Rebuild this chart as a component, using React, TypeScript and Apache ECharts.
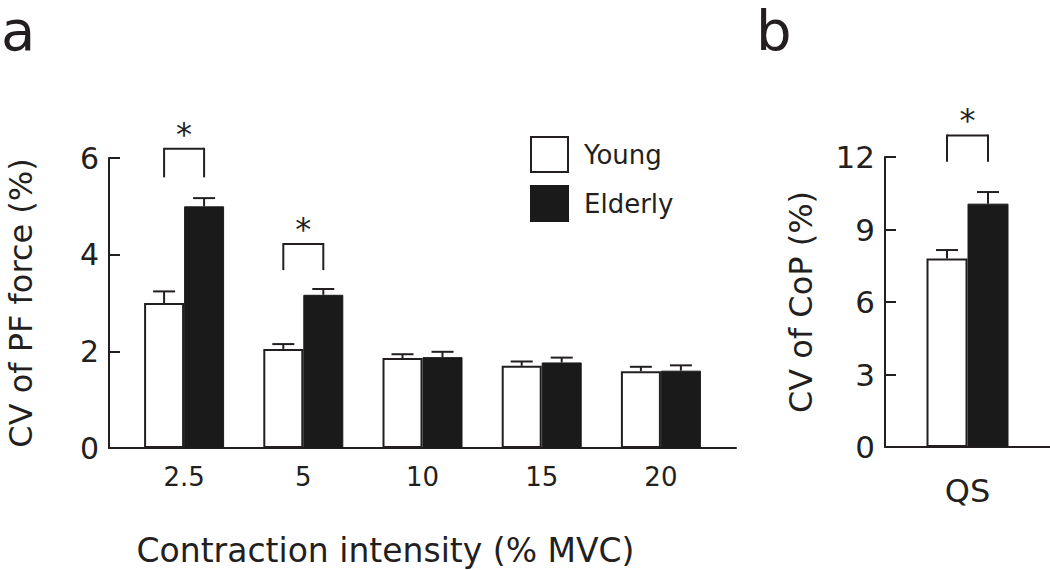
import React, { useEffect, useRef } from 'react';
import * as echarts from 'echarts';

// ---- Panel a data ----
const categories = ['2.5', '5', '10', '15', '20'];
const youngMean = [3.0, 2.05, 1.86, 1.70, 1.59];
const youngSE = [0.24, 0.10, 0.08, 0.09, 0.09];
const elderlyMean = [5.0, 3.17, 1.88, 1.77, 1.60];
const elderlySE = [0.17, 0.12, 0.11, 0.10, 0.11];
const sigIndexA = [0, 1];
const sigTopA = [6.19, 4.22];
const sigLegA = [5.6, 3.68];
const yMaxA = 6;
const yStepA = 2;

// ---- Panel b data ----
const qsCategories = ['QS'];
const qsYoungMean = [7.8];
const qsYoungSE = [0.35];
const qsElderlyMean = [10.07];
const qsElderlySE = [0.48];
const sigIndexB = [0];
const sigTopB = [12.89];
const sigLegB = [11.8];
const yMaxB = 12;
const yStepB = 3;

const INK = '#231f20';
const FONT = 'DejaVu Sans';
const BAR_A = 40;
const BAR_B = 41;

const lineEl = (x1: number, y1: number, x2: number, y2: number) => ({
  type: 'line',
  shape: { x1, y1, x2, y2 },
  style: { stroke: INK, lineWidth: 2 },
});

const errRender = (barW: number) => (params: any, api: any) => {
  const x = api.value(0);
  const mean = api.value(1);
  const top = api.value(2);
  const side = api.value(3);
  const base = api.coord([x, mean]);
  const tp = api.coord([x, top]);
  const cx = base[0] + (side * barW) / 2;
  return {
    type: 'group',
    children: [lineEl(cx, base[1], cx, tp[1]), lineEl(cx - 11, tp[1], cx + 11, tp[1])],
  };
};

const sigRender = (barW: number) => (params: any, api: any) => {
  const x = api.value(0);
  const t = api.coord([x, api.value(1)]);
  const l = api.coord([x, api.value(2)]);
  const h = barW / 2;
  const xl = t[0] - h;
  const xr = t[0] + h;
  return {
    type: 'group',
    children: [
      lineEl(xl, l[1], xl, t[1] - 1),
      lineEl(xl, t[1], xr, t[1]),
      lineEl(xr, t[1] - 1, xr, l[1]),
      {
        type: 'text',
        x: t[0],
        y: t[1] - 15,
        style: { text: '*', font: `32px "${FONT}"`, fill: INK, align: 'center', verticalAlign: 'middle' },
      },
    ],
  };
};

export default function App() {
  const ref = useRef<HTMLDivElement>(null);
  useEffect(() => {
    if (!ref.current) return;
    const chart = echarts.init(ref.current, undefined, { renderer: 'svg' });
    const axisLine = { show: true, onZero: false, lineStyle: { color: INK, width: 2 } };
    const option: any = {
      animation: false,
      backgroundColor: '#ffffff',
      textStyle: { fontFamily: FONT, color: INK },
      grid: [
        { left: 109, top: 158, width: 627, height: 290, outerBoundsMode: 'none' },
        { left: 885, top: 157, width: 165, height: 290, outerBoundsMode: 'none' },
      ],
      legend: {
        data: ['Young', 'Elderly'],
        orient: 'vertical',
        left: 530,
        top: 136,
        padding: 0,
        itemWidth: 37,
        itemHeight: 35,
        itemGap: 12,
        icon: 'rect',
        selectedMode: false,
        textStyle: { fontSize: 26, fontFamily: FONT, color: INK, padding: [0, 0, 0, 11] },
      },
      xAxis: [
        {
          type: 'value',
          gridIndex: 0,
          min: -0.63,
          max: 4.63,
          splitLine: { show: false },
          axisLine,
          axisTick: { show: false },
          axisLabel: {
            fontSize: 26,
            fontFamily: FONT,
            color: INK,
            margin: 16,
            showMinLabel: true,
            showMaxLabel: true,
            formatter: (v: number) => (Number.isInteger(v) && categories[v] !== undefined ? categories[v] : ''),
          },
          name: 'Contraction intensity (% MVC)',
          nameLocation: 'middle',
          nameGap: 86,
          nameTextStyle: { fontSize: 33, fontFamily: FONT, color: INK, padding: [0, 74, 0, 0] },
        },
        {
          type: 'category',
          gridIndex: 1,
          data: qsCategories,
          axisLine,
          axisTick: { show: false },
          axisLabel: { fontSize: 32, fontFamily: FONT, color: INK, margin: 28 },
        },
      ],
      yAxis: [
        {
          type: 'value',
          gridIndex: 0,
          min: 0,
          max: yMaxA,
          interval: yStepA,
          splitLine: { show: false },
          axisLine,
          axisTick: { show: true, inside: true, length: 11, lineStyle: { color: INK, width: 2 } },
          axisLabel: { fontSize: 30, fontFamily: FONT, color: INK, margin: 10 },
          name: 'CV of PF force (%)',
          nameLocation: 'middle',
          nameGap: 72,
          nameTextStyle: { fontSize: 32, fontFamily: FONT, color: INK },
        },
        {
          type: 'value',
          gridIndex: 1,
          min: 0,
          max: yMaxB,
          interval: yStepB,
          splitLine: { show: false },
          axisLine,
          axisTick: { show: true, inside: true, length: 11, lineStyle: { color: INK, width: 2 } },
          axisLabel: { fontSize: 31, fontFamily: FONT, color: INK, margin: 10 },
          name: 'CV of CoP (%)',
          nameLocation: 'middle',
          nameGap: 68,
          nameTextStyle: { fontSize: 32, fontFamily: FONT, color: INK },
        },
      ],
      graphic: [
        {
          type: 'text',
          x: 1,
          y: 30,
          style: { text: 'a', font: `56px "${FONT}"`, lineHeight: 56, fill: INK, verticalAlign: 'middle' },
        },
        {
          type: 'text',
          x: 756,
          y: 30,
          style: { text: 'b', font: `56px "${FONT}"`, lineHeight: 56, fill: INK, verticalAlign: 'middle' },
        },
      ],
      series: [
        {
          name: 'Young',
          type: 'bar',
          xAxisIndex: 0,
          yAxisIndex: 0,
          barWidth: BAR_A,
          barGap: '0%',
          itemStyle: { color: '#ffffff', borderColor: INK, borderWidth: 2 },
          data: youngMean.map((v, i) => [i, v]),
        },
        {
          name: 'Elderly',
          type: 'bar',
          xAxisIndex: 0,
          yAxisIndex: 0,
          barWidth: BAR_A,
          barGap: '0%',
          itemStyle: { color: '#1a1a1a', borderColor: '#1a1a1a', borderWidth: 1 },
          data: elderlyMean.map((v, i) => [i, v]),
        },
        {
          type: 'custom',
          xAxisIndex: 0,
          yAxisIndex: 0,
          clip: false,
          renderItem: errRender(BAR_A),
          data: [
            ...youngMean.map((v, i) => [i, v, v + youngSE[i], -1]),
            ...elderlyMean.map((v, i) => [i, v, v + elderlySE[i], 1]),
          ],
        },
        {
          type: 'custom',
          xAxisIndex: 0,
          yAxisIndex: 0,
          clip: false,
          renderItem: sigRender(BAR_A),
          data: sigIndexA.map((c, k) => [c, sigTopA[k], sigLegA[k]]),
        },
        {
          name: 'Young',
          type: 'bar',
          xAxisIndex: 1,
          yAxisIndex: 1,
          barWidth: BAR_B,
          barGap: '0%',
          itemStyle: { color: '#ffffff', borderColor: INK, borderWidth: 2 },
          data: qsYoungMean,
        },
        {
          name: 'Elderly',
          type: 'bar',
          xAxisIndex: 1,
          yAxisIndex: 1,
          barWidth: BAR_B,
          barGap: '0%',
          itemStyle: { color: '#1a1a1a', borderColor: '#1a1a1a', borderWidth: 1 },
          data: qsElderlyMean,
        },
        {
          type: 'custom',
          xAxisIndex: 1,
          yAxisIndex: 1,
          clip: false,
          renderItem: errRender(BAR_B),
          data: [
            ...qsYoungMean.map((v, i) => [i, v, v + qsYoungSE[i], -1]),
            ...qsElderlyMean.map((v, i) => [i, v, v + qsElderlySE[i], 1]),
          ],
        },
        {
          type: 'custom',
          xAxisIndex: 1,
          yAxisIndex: 1,
          clip: false,
          renderItem: sigRender(BAR_B),
          data: sigIndexB.map((c, k) => [c, sigTopB[k], sigLegB[k]]),
        },
      ],
    };
    chart.setOption(option);
    return () => chart.dispose();
  }, []);
  return (
    <div
      ref={ref}
      style={{ position: 'fixed', left: 0, top: 0, width: 1050, height: 570, background: '#fff' }}
    />
  );
}
